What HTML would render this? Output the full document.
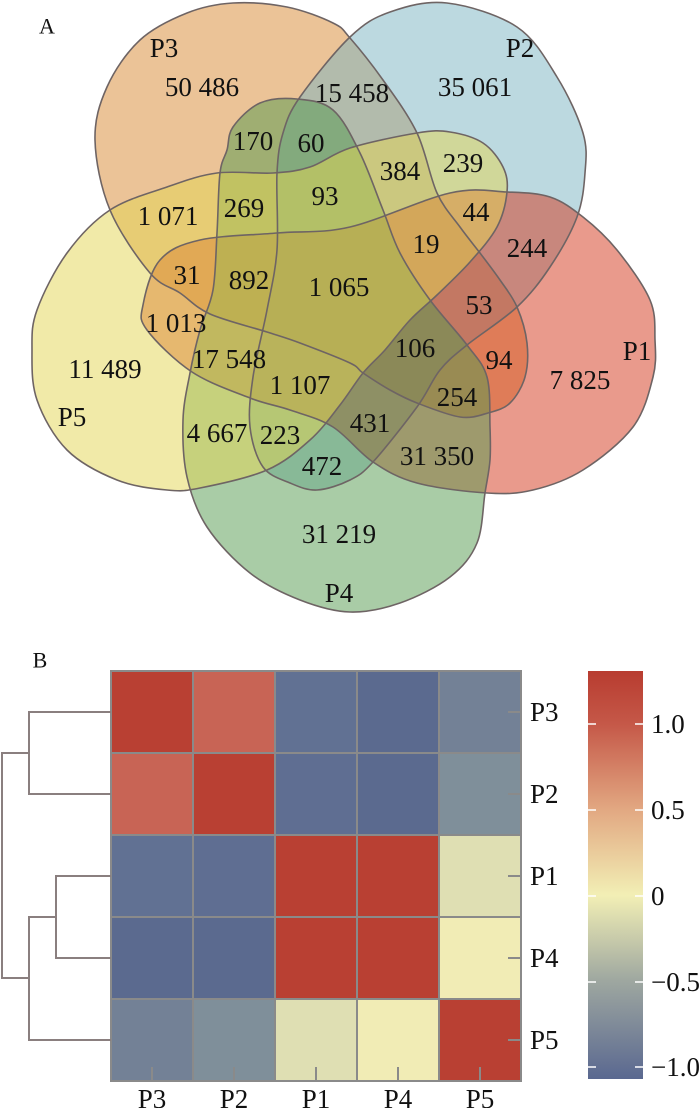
<!DOCTYPE html>
<html><head><meta charset="utf-8"><style>
html,body{margin:0;padding:0;background:#fff;}
svg{display:block;}
text{font-family:"Liberation Serif",serif;fill:#111;}
</style></head><body>
<svg width="700" height="1108" viewBox="0 0 700 1108" xmlns="http://www.w3.org/2000/svg">
<defs>
<polygon id="p3" points="95,140 107,87 140,40 187,13 233,3 287,7 333,23 350,38 383,80 417,133 437,193 460,227 480,253 500,280 517,307 527,343 525,377 510,403 488,413 460,417 417,403 390,390 363,373 350,363 300,343 267,332 210,314 180,293 150,273 110,210"/>
<polygon id="p2" points="447,3 517,27 557,77 583,133 585,173 577,217 550,267 517,307 467,345 440,370 417,407 373,462 350,480 317,490 290,483 263,467 250,427 253,377 267,310 277,250 277,173 283,133 300,97 350,37 390,12"/>
<polygon id="p1" points="143,305 160,260 200,240 277,233 350,227 450,193 507,192 550,197 583,217 617,250 650,300 655,340 653,377 633,427 583,470 533,490 487,493 417,483 373,462 333,427 290,410 250,398 192,372 147,330"/>
<polygon id="p4" points="297,99 333,110 360,153 383,210 400,253 430,300 467,345 487,377 490,427 490,460 485,493 477,543 450,577 400,603 350,612 300,600 250,573 207,527 187,477 183,420 190,373 200,330 213,290 217,233 220,173 227,150 233,127 260,103"/>
<polygon id="p5" points="37,310 67,253 110,210 167,187 217,173 273,173 310,167 350,148 417,133 450,132 483,143 503,167 507,192 497,227 470,262 437,295 410,320 385,350 363,373 340,405 310,440 267,470 200,488 167,490 117,480 67,450 37,400 32,350"/>
<linearGradient id="cb" x1="0" y1="0" x2="0" y2="1">
<stop offset="0" stop-color="#b83c30"/>
<stop offset="0.13" stop-color="#c55848"/>
<stop offset="0.34" stop-color="#e2a882"/>
<stop offset="0.55" stop-color="#f2efb5"/>
<stop offset="0.76" stop-color="#9ea7a0"/>
<stop offset="1" stop-color="#5a6890"/>
</linearGradient>
</defs>
<g stroke="none" fill-opacity="0.5">
<use href="#p3" fill="#d7872f"/>
<use href="#p2" fill="#79b3c1"/>
<use href="#p1" fill="#d33519"/>
<use href="#p4" fill="#53994d"/>
<use href="#p5" fill="#e3d551"/>
</g>
<g fill="none" stroke="#6e6464" stroke-width="1.6" stroke-linejoin="round">
<use href="#p3"/><use href="#p2"/><use href="#p1"/><use href="#p4"/><use href="#p5"/>
</g>
<g font-size="27" text-anchor="middle" dominant-baseline="central">
<text x="47" y="26" font-size="22">A</text>
<text x="164" y="48">P3</text>
<text x="520" y="48">P2</text>
<text x="637" y="351">P1</text>
<text x="72" y="417">P5</text>
<text x="339" y="593">P4</text>
<text x="202" y="87">50 486</text>
<text x="352" y="93">15 458</text>
<text x="475" y="87">35 061</text>
<text x="253" y="141">170</text>
<text x="311" y="143">60</text>
<text x="400" y="171">384</text>
<text x="463" y="163">239</text>
<text x="325" y="196">93</text>
<text x="244" y="208">269</text>
<text x="168" y="216">1 071</text>
<text x="476" y="212">44</text>
<text x="426" y="244">19</text>
<text x="527" y="248">244</text>
<text x="187" y="275">31</text>
<text x="249" y="280">892</text>
<text x="339" y="287">1 065</text>
<text x="479" y="305">53</text>
<text x="176" y="323">1 013</text>
<text x="415" y="348">106</text>
<text x="499" y="360">94</text>
<text x="229" y="359">17 548</text>
<text x="105" y="369">11 489</text>
<text x="580" y="380">7 825</text>
<text x="300" y="385">1 107</text>
<text x="457" y="397">254</text>
<text x="370" y="423">431</text>
<text x="217" y="433">4 667</text>
<text x="280" y="435">223</text>
<text x="437" y="456">31 350</text>
<text x="322" y="466">472</text>
<text x="339" y="534">31 219</text>
</g>

<text x="40" y="660" font-size="22" text-anchor="middle" dominant-baseline="central">B</text>
<g stroke="#8a8a8a" stroke-width="2">
<rect x="111" y="671" width="82" height="82" fill="#b94033"/>
<rect x="193" y="671" width="82" height="82" fill="#c86455"/>
<rect x="275" y="671" width="82" height="82" fill="#617193"/>
<rect x="357" y="671" width="82" height="82" fill="#5b6a8f"/>
<rect x="439" y="671" width="82" height="82" fill="#738196"/>
<rect x="111" y="753" width="82" height="82" fill="#c86455"/>
<rect x="193" y="753" width="82" height="82" fill="#b94033"/>
<rect x="275" y="753" width="82" height="82" fill="#5f6e92"/>
<rect x="357" y="753" width="82" height="82" fill="#5b6a8f"/>
<rect x="439" y="753" width="82" height="82" fill="#7f8f9a"/>
<rect x="111" y="835" width="82" height="82" fill="#617193"/>
<rect x="193" y="835" width="82" height="82" fill="#5f6e92"/>
<rect x="275" y="835" width="82" height="82" fill="#b94033"/>
<rect x="357" y="835" width="82" height="82" fill="#b94033"/>
<rect x="439" y="835" width="82" height="82" fill="#dfdfb3"/>
<rect x="111" y="917" width="82" height="82" fill="#5b6a8f"/>
<rect x="193" y="917" width="82" height="82" fill="#5b6a8f"/>
<rect x="275" y="917" width="82" height="82" fill="#b94033"/>
<rect x="357" y="917" width="82" height="82" fill="#b94033"/>
<rect x="439" y="917" width="82" height="82" fill="#f1ecb5"/>
<rect x="111" y="999" width="82" height="82" fill="#738196"/>
<rect x="193" y="999" width="82" height="82" fill="#7f8f9a"/>
<rect x="275" y="999" width="82" height="82" fill="#dfdfb3"/>
<rect x="357" y="999" width="82" height="82" fill="#f1ecb5"/>
<rect x="439" y="999" width="82" height="82" fill="#b94033"/>
</g>
<g stroke="#8a8a8a" stroke-width="2">
<line x1="508" y1="712" x2="521" y2="712"/>
<line x1="508" y1="794" x2="521" y2="794"/>
<line x1="508" y1="876" x2="521" y2="876"/>
<line x1="508" y1="958" x2="521" y2="958"/>
<line x1="508" y1="1040" x2="521" y2="1040"/>
<line x1="152" y1="1067" x2="152" y2="1081"/>
<line x1="234" y1="1067" x2="234" y2="1081"/>
<line x1="316" y1="1067" x2="316" y2="1081"/>
<line x1="398" y1="1067" x2="398" y2="1081"/>
<line x1="480" y1="1067" x2="480" y2="1081"/>
</g>
<g font-size="27" dominant-baseline="central">
<text x="530" y="712">P3</text>
<text x="530" y="794">P2</text>
<text x="530" y="876">P1</text>
<text x="530" y="958">P4</text>
<text x="530" y="1040">P5</text>
</g>
<g font-size="27" text-anchor="middle">
<text x="152" y="1108">P3</text>
<text x="234" y="1108">P2</text>
<text x="316" y="1108">P1</text>
<text x="398" y="1108">P4</text>
<text x="480" y="1108">P5</text>
</g>
<g fill="none" stroke="#8a7f7f" stroke-width="2">
<path d="M111,712 H29 V794 H111"/>
<path d="M111,876 H56 V958 H111"/>
<path d="M56,917 H29 V1040 H111"/>
<path d="M29,753 H2 V978 H29"/>
</g>
<rect x="588" y="671" width="55" height="408" fill="url(#cb)"/>
<g stroke="#fff" stroke-width="1.5">
<line x1="588" y1="724" x2="596" y2="724"/><line x1="635" y1="724" x2="643" y2="724"/>
<line x1="588" y1="810" x2="596" y2="810"/><line x1="635" y1="810" x2="643" y2="810"/>
<line x1="588" y1="896" x2="596" y2="896"/><line x1="635" y1="896" x2="643" y2="896"/>
<line x1="588" y1="982" x2="596" y2="982"/><line x1="635" y1="982" x2="643" y2="982"/>
<line x1="588" y1="1067" x2="596" y2="1067"/><line x1="635" y1="1067" x2="643" y2="1067"/>
</g>
<g font-size="27" dominant-baseline="central">
<text x="651" y="724">1.0</text>
<text x="651" y="810">0.5</text>
<text x="651" y="896">0</text>
<text x="651" y="982">−0.5</text>
<text x="651" y="1067">−1.0</text>
</g>
</svg>
<script>
(function(){
  var ns="http://www.w3.org/2000/svg";
  ["p1","p2","p3","p4","p5"].forEach(function(id){
    var poly=document.getElementById(id);
    if(!poly) return;
    var nums=poly.getAttribute("points").trim().split(/[\s,]+/).map(Number);
    var p=[];for(var i=0;i<nums.length;i+=2)p.push([nums[i],nums[i+1]]);
    var n=p.length,d="M"+p[0][0]+","+p[0][1];
    for(var i=0;i<n;i++){
      var p0=p[(i-1+n)%n],p1=p[i],p2=p[(i+1)%n],p3=p[(i+2)%n];
      var c1x=p1[0]+(p2[0]-p0[0])/6,c1y=p1[1]+(p2[1]-p0[1])/6;
      var c2x=p2[0]-(p3[0]-p1[0])/6,c2y=p2[1]-(p3[1]-p1[1])/6;
      d+=" C"+c1x.toFixed(1)+","+c1y.toFixed(1)+" "+c2x.toFixed(1)+","+c2y.toFixed(1)+" "+p2[0]+","+p2[1];
    }
    d+="Z";
    var path=document.createElementNS(ns,"path");
    path.setAttribute("id",id);path.setAttribute("d",d);
    poly.parentNode.replaceChild(path,poly);
  });
  document.querySelectorAll("use").forEach(function(u){var h=u.getAttribute("href");u.setAttribute("href","");u.setAttribute("href",h);});
})();
</script>
</body></html>
